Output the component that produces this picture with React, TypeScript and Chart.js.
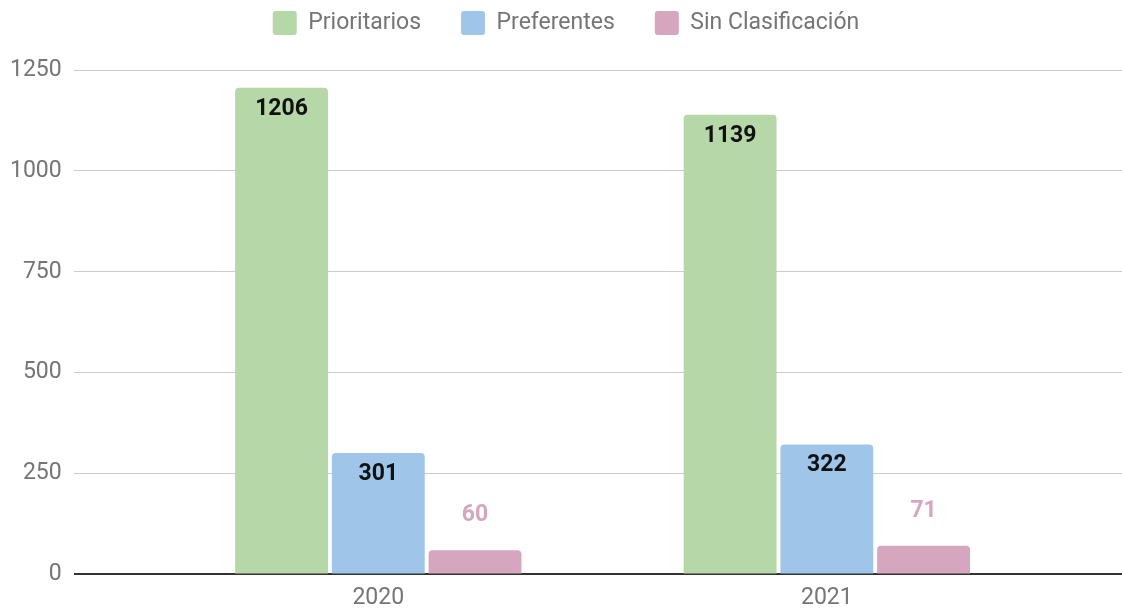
import React, { useEffect, useRef } from "react";
import { Chart, registerables } from "chart.js";

Chart.register(...registerables);

const years = [2020, 2021];
const prioritarios = [1206, 1139];
const preferentes = [301, 322];
const sinClasificacion = [60, 71];
const yTicks = [0, 250, 500, 750, 1000, 1250];

const seriesNames = ["Prioritarios", "Preferentes", "Sin Clasificación"];
const seriesColors = ["#b6d7a8", "#9fc5e8", "#d5a6bd"];

const FONT = "Roboto";
const GREY = "#757575";

const valueLabels = {
  id: "valueLabels",
  afterDatasetsDraw(chart: any) {
    const ctx = chart.ctx;
    ctx.save();
    ctx.font = `bold 23px ${FONT}`;
    ctx.textAlign = "center";
    ctx.textBaseline = "middle";
    chart.data.datasets.forEach((ds: any, di: number) => {
      const meta = chart.getDatasetMeta(di);
      meta.data.forEach((bar: any, i: number) => {
        const v = ds.data[i].y;
        const { x, y, base } = bar.getProps(["x", "y", "base"], true);
        const h = base - y;
        if (h > 60) {
          ctx.fillStyle = "#111111";
          ctx.fillText(String(v), x, y + 21);
        } else {
          ctx.fillStyle = ds.backgroundColor;
          ctx.fillText(String(v), x, y - 35);
        }
      });
    });
    ctx.restore();
  },
};

export default function App() {
  const ref = useRef<HTMLCanvasElement | null>(null);

  useEffect(() => {
    document.body.style.margin = "0";
    const seriesValues = [prioritarios, preferentes, sinClasificacion];
    const chart = new Chart(ref.current as HTMLCanvasElement, {
      type: "bar",
      data: {
        datasets: seriesValues.map((vals, k) => ({
          label: seriesNames[k],
          data: years.map((yr, i) => ({ x: yr, y: vals[i] })),
          backgroundColor: seriesColors[k],
          borderRadius: 4,
          categoryPercentage: 0.647,
          barPercentage: 0.96,
        })),
      },
      options: {
        animation: false,
        responsive: false,
        layout: { padding: { top: -29, left: 10, right: 0, bottom: -12 } },
        plugins: {
          legend: {
            position: "top",
            weight: 3000,
            labels: {
              boxWidth: 24,
              boxHeight: 24,
              padding: 40,
              color: GREY,
              useBorderRadius: true,
              borderRadius: 3,
              font: { family: FONT, size: 23 },
            },
          } as any,
          title: {
            display: true,
            text: "",
            font: { size: 10 },
            padding: { top: 6, bottom: 7 },
          },
          tooltip: { enabled: false },
        },
        scales: {
          x: {
            type: "linear",
            offset: false,
            bounds: "data",
            min: 2019.321,
            max: 2021.658,
            grid: { display: false, drawTicks: false, offset: false },
            border: { display: false },
            afterBuildTicks: (scale: any) => {
              scale.ticks = years.map((v) => ({ value: v }));
            },
            ticks: {
              color: GREY,
              font: { family: FONT, size: 23 },
              padding: 10,
              maxRotation: 0,
              callback: (v: any) => String(v),
            },
          },
          y: {
            min: 0,
            max: 1250,
            afterBuildTicks: (scale: any) => {
              scale.ticks = yTicks.map((v) => ({ value: v }));
            },
            afterFit: (scale: any) => {
              scale.width = scale.width - 12;
            },
            border: { display: false },
            grid: {
              drawTicks: false,
              color: (c: any) => (c.tick && c.tick.value === 0 ? "#333333" : "#cccccc"),
              lineWidth: (c: any) => (c.tick && c.tick.value === 0 ? 2 : 1),
            },
            ticks: {
              color: GREY,
              font: { family: FONT, size: 23 },
              padding: 12,
              callback: (v: any) => String(v),
            },
          },
        },
      } as any,
      plugins: [valueLabels],
    });
    return () => chart.destroy();
  }, []);

  return (
    <div style={{ width: 1122, height: 610, background: "#ffffff" }}>
      <canvas ref={ref} width={1122} height={610} style={{ display: "block" }} />
    </div>
  );
}
